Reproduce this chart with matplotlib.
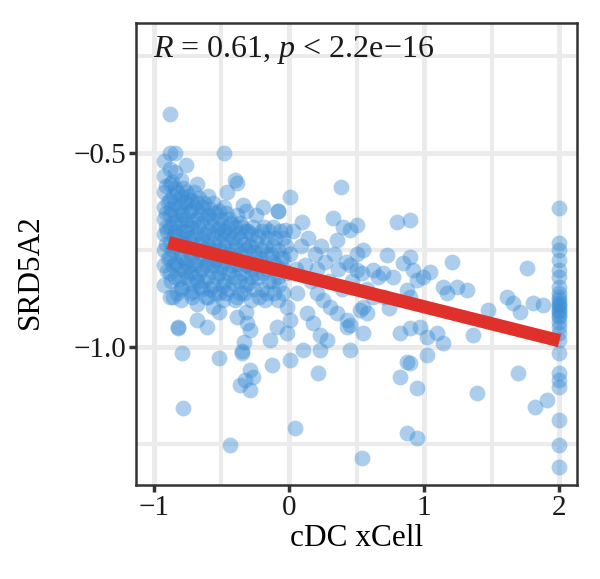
import matplotlib
matplotlib.use("Agg")
import matplotlib.pyplot as plt

plt.rcParams['font.family'] = ['Liberation Serif', 'DejaVu Serif']
plt.rcParams['mathtext.fontset'] = 'custom'
plt.rcParams['mathtext.rm'] = 'Liberation Serif'
plt.rcParams['mathtext.it'] = 'Liberation Serif:italic'

# cDC xCell score vs SRD5A2 expression
# dense cluster on the left
blob_x = (
    [-0.92] * 9 + [-0.88] * 11 + [-0.84] * 9 + [-0.80] * 9 + [-0.76] * 8 +
    [-0.72] * 7 + [-0.68] * 8 + [-0.64] * 6 + [-0.60] * 7 + [-0.56] * 6 +
    [-0.52] * 7 + [-0.48] * 6 + [-0.44] * 5 + [-0.40] * 6 + [-0.36] * 5 +
    [-0.32] * 6 + [-0.28] * 5 + [-0.24] * 4 + [-0.20] * 4 + [-0.16] * 4 +
    [-0.12] * 4 + [-0.08] * 4 + [-0.04] * 4
)
blob_y = [
    -0.52, -0.56, -0.60, -0.64, -0.67, -0.71, -0.75, -0.79, -0.84,
    -0.40, -0.50, -0.54, -0.58, -0.62, -0.66, -0.69, -0.73, -0.77, -0.81, -0.87,
    -0.50, -0.55, -0.59, -0.63, -0.66, -0.70, -0.74, -0.78, -0.82,
    -0.57, -0.61, -0.65, -0.68, -0.72, -0.76, -0.80, -0.85, -0.88,
    -0.53, -0.60, -0.63, -0.67, -0.70, -0.74, -0.78, -0.82,
    -0.62, -0.65, -0.69, -0.73, -0.77, -0.81, -0.86,
    -0.58, -0.63, -0.67, -0.71, -0.75, -0.79, -0.83, -0.89,
    -0.64, -0.68, -0.72, -0.76, -0.80, -0.85,
    -0.61, -0.66, -0.70, -0.74, -0.78, -0.82, -0.87,
    -0.63, -0.67, -0.71, -0.75, -0.79, -0.84,
    -0.65, -0.69, -0.73, -0.77, -0.81, -0.86, -0.91,
    -0.50, -0.64, -0.70, -0.74, -0.78, -0.83,
    -0.67, -0.71, -0.76, -0.80, -0.85,
    -0.57, -0.69, -0.73, -0.77, -0.82, -0.88,
    -0.68, -0.72, -0.76, -0.80, -0.86,
    -0.65, -0.70, -0.75, -0.79, -0.84, -0.91,
    -0.71, -0.74, -0.78, -0.82, -0.88,
    -0.66, -0.73, -0.77, -0.81,
    -0.70, -0.75, -0.79, -0.85,
    -0.72, -0.76, -0.80, -0.86,
    -0.69, -0.74, -0.78, -0.83,
    -0.65, -0.75, -0.82, -0.88,
    -0.72, -0.77, -0.80, -0.86,
]

# second, offset layer of the cluster and the band around the fit
fill_x = [
    -0.905, -0.895, -0.910, -0.900, -0.905, -0.895, -0.900, -0.910,
    -0.865, -0.855, -0.870, -0.860, -0.850, -0.865, -0.855, -0.870,
    -0.825, -0.815, -0.830, -0.820, -0.810, -0.825, -0.815, -0.830,
    -0.785, -0.775, -0.790, -0.780, -0.770, -0.785, -0.775, -0.790,
    -0.745, -0.735, -0.750, -0.740, -0.730, -0.745, -0.735,
    -0.705, -0.695, -0.710, -0.700, -0.690, -0.705, -0.695, -0.710,
    -0.665, -0.655, -0.670, -0.660, -0.650, -0.665, -0.655,
    -0.625, -0.615, -0.630, -0.620, -0.610, -0.625, -0.615,
    -0.585, -0.575, -0.590, -0.580, -0.570, -0.585,
    -0.545, -0.535, -0.550, -0.540, -0.530, -0.545,
    -0.505, -0.495, -0.510, -0.500, -0.490,
    -0.465, -0.455, -0.470, -0.460, -0.450, -0.465,
    -0.425, -0.415, -0.430, -0.420, -0.410,
    -0.385, -0.375, -0.390, -0.380, -0.370, -0.385,
    -0.345, -0.335, -0.350, -0.340, -0.330,
    -0.305, -0.295, -0.310, -0.300,
    -0.265, -0.255, -0.270, -0.260,
    -0.225, -0.215, -0.230, -0.220,
    -0.185, -0.175, -0.190, -0.180,
    -0.145, -0.135, -0.150,
    -0.105, -0.095, -0.110,
    -0.065, -0.055, -0.070,
    -0.025, -0.015, 0.010, 0.030, 0.050, 0.060, 0.090, 0.120, 0.140,
    0.160, 0.190, 0.210, 0.240, 0.270, 0.300, 0.330, 0.360, 0.390,
    0.420, 0.470, 0.500, 0.540, 0.580, 0.620, 0.660, 0.700, 0.740,
]
fill_y = [
    -0.585, -0.625, -0.655, -0.700, -0.735, -0.770, -0.805, -0.690,
    -0.575, -0.610, -0.645, -0.680, -0.715, -0.750, -0.790, -0.830,
    -0.600, -0.640, -0.675, -0.715, -0.745, -0.785, -0.825, -0.860,
    -0.590, -0.625, -0.660, -0.700, -0.735, -0.770, -0.805, -0.845,
    -0.610, -0.650, -0.685, -0.720, -0.755, -0.795, -0.835,
    -0.600, -0.640, -0.675, -0.715, -0.750, -0.785, -0.820, -0.855,
    -0.615, -0.655, -0.690, -0.735, -0.770, -0.810, -0.845,
    -0.630, -0.665, -0.705, -0.745, -0.790, -0.830, -0.870,
    -0.645, -0.685, -0.725, -0.765, -0.805, -0.850,
    -0.655, -0.695, -0.735, -0.775, -0.820, -0.860,
    -0.670, -0.710, -0.750, -0.795, -0.840,
    -0.655, -0.690, -0.725, -0.765, -0.810, -0.860,
    -0.680, -0.720, -0.750, -0.790, -0.835,
    -0.660, -0.705, -0.745, -0.785, -0.830, -0.870,
    -0.690, -0.735, -0.770, -0.810, -0.860,
    -0.700, -0.740, -0.790, -0.835,
    -0.690, -0.755, -0.800, -0.850,
    -0.715, -0.770, -0.820, -0.870,
    -0.690, -0.740, -0.810, -0.880,
    -0.700, -0.760, -0.830,
    -0.720, -0.790, -0.860,
    -0.700, -0.770, -0.840,
    -0.740, -0.810, -0.760, -0.700, -0.800, -0.860, -0.740, -0.790, -0.720,
    -0.830, -0.760, -0.800, -0.740, -0.780, -0.830, -0.760, -0.800, -0.850,
    -0.780, -0.830, -0.760, -0.810, -0.850, -0.870, -0.820, -0.870, -0.900,
]

# scattered points
spread_x = [
    0.385, 0.007, -0.459, -0.193, -0.081, -0.341, -0.385,
    0.326, 0.400, 0.504, 0.452, 0.356, 0.096, -0.030, 0.800, 0.896,
    0.548, 0.726, 0.896, 1.207, 1.763, 0.452, 0.504,
    0.622, 0.696, 0.770, 0.844, 0.919, 0.993, 1.044,
    1.141, 1.244, 1.319, 1.170, 1.474,
    1.615, 1.659, 1.711, 1.807, 1.881,
    0.874, 0.948, 0.896, 0.548, 0.526, 0.578, 0.430, 0.452,
    0.207, 0.252, 0.304, 0.356, 0.133, 0.178,
    -0.015, 0.007, -0.089, -0.141, -0.015, 0.230, 0.281, 0.430, 0.548,
    0.822, 0.896, 0.970, 1.022, 1.096, 1.141, 1.363,
    0.104, 0.230, 0.452, 0.007, -0.126, 0.215,
    0.874, 0.896, 1.022, 0.822, 0.948, 1.696, 1.393, 1.822, 1.911,
    0.044, 0.874, 0.948, 0.541, -0.437, -0.785, -0.793, -0.519, -0.348,
    -0.289, -0.267, -0.326, -0.363, -0.289, -0.822, -0.822,
    -0.681, -0.607, -0.859, -0.719, -0.563, -0.489,
    -0.385, -0.311, -0.289, -0.333, -0.348,
]
spread_y = [
    -0.588, -0.613, -0.601, -0.639, -0.649, -0.634, -0.577,
    -0.668, -0.691, -0.686, -0.698, -0.724, -0.678, -0.698, -0.678, -0.673,
    -0.750, -0.763, -0.768, -0.781, -0.796, -0.789, -0.802,
    -0.802, -0.809, -0.820, -0.784, -0.802, -0.820, -0.807,
    -0.845, -0.845, -0.853, -0.861, -0.905,
    -0.871, -0.887, -0.910, -0.887, -0.892,
    -0.853, -0.827, -0.871, -0.897, -0.905, -0.912, -0.930, -0.943,
    -0.861, -0.879, -0.897, -0.912, -0.912, -0.938,
    -0.897, -0.930, -0.948, -0.982, -0.964, -0.969, -0.982, -0.948, -0.964,
    -0.964, -0.951, -0.948, -0.974, -0.964, -0.990, -0.969,
    -1.008, -1.008, -1.008, -1.034, -1.046, -1.067,
    -1.039, -1.041, -1.021, -1.077, -1.106, -1.067, -1.119, -1.155, -1.137,
    -1.209, -1.222, -1.235, -1.286, -1.253, -1.157, -1.015, -1.028, -1.015,
    -1.059, -1.077, -1.085, -1.098, -1.111, -0.948, -0.952,
    -0.930, -0.948, -0.871, -0.871, -0.897, -0.879,
    -0.923, -0.938, -0.956, -0.987, -1.010,
]

# column of samples stuck at x = 2
edge_y = [
    -0.642, -0.732, -0.750, -0.776, -0.802, -0.820, -0.845, -0.871,
    -0.887, -0.897, -0.910, -0.923, -0.936, -0.948, -0.964, -0.982,
    -1.015, -1.067, -1.085, -1.103, -1.188, -1.253, -1.309,
    -0.880, -0.893, -0.905, -0.917, -0.860,
]
edge_x = [2.0] * len(edge_y)

# fitted line end points
fit_x = [-0.89, 2.0]
fit_y = [-0.731, -0.984]

x_ticks = [-1, 0, 1, 2]
x_labels = ["−1", "0", "1", "2"]
y_ticks = [-1.0, -0.5]
y_labels = ["−1.0", "−0.5"]
label_text = r"$\it{R}$ = 0.61, $\it{p}$ < 2.2e−16"

xs = blob_x + fill_x + spread_x + edge_x
ys = blob_y + fill_y + spread_y + edge_y

fig = plt.figure(figsize=(6, 5.79), dpi=100)
ax = fig.add_axes([0.2267, 0.1623, 0.735, 0.7985])

ax.scatter(xs, ys, s=130, color="#3a8cd4", alpha=0.42, linewidths=0, zorder=3)
ax.plot(fit_x, fit_y, color="#e0302a", linewidth=9.5, solid_capstyle="butt", zorder=4)

ax.set_xlim(-1.13, 2.13)
ax.set_ylim(-1.356, -0.164)
ax.set_xticks(x_ticks)
ax.set_xticklabels(x_labels)
ax.set_xticks([-0.5, 0.5, 1.5], minor=True)
ax.set_yticks(y_ticks)
ax.set_yticklabels(y_labels)
ax.set_yticks([-1.25, -0.75, -0.25], minor=True)

ax.grid(which="major", color="#ebebeb", linewidth=3.6, zorder=0)
ax.grid(which="minor", color="#ebebeb", linewidth=3.0, zorder=0)
ax.set_axisbelow(True)

for s in ax.spines.values():
    s.set_color("#333333")
    s.set_linewidth(1.8)

ax.tick_params(which="major", direction="out", length=5, width=2.5,
               color="#333333", labelsize=21, labelcolor="#1a1a1a", pad=2)
ax.tick_params(which="minor", length=0)

ax.set_xlabel("cDC xCell", fontsize=22.5, labelpad=2)
ax.set_ylabel("SRD5A2", fontsize=22.5)
ax.yaxis.set_label_coords(-0.206, 0.462)

ax.text(0.038, 0.926, label_text, transform=ax.transAxes, fontsize=23,
        va="baseline", ha="left", color="#1a1a1a")

plt.savefig("out.png", dpi=100)
